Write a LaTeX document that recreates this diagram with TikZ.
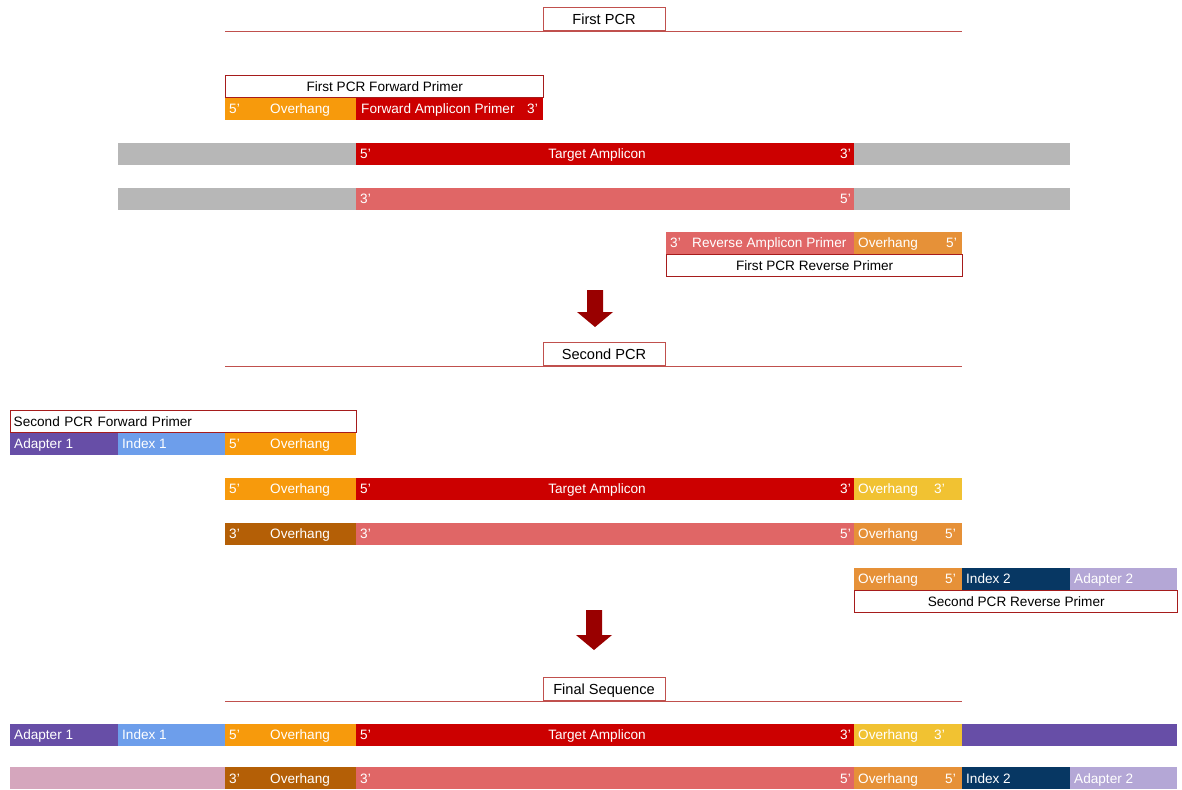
\documentclass[tikz,border=0pt]{standalone}
\usepackage{fontspec}
\setmainfont{Liberation Sans}
\usepackage{tikz}
\usetikzlibrary{positioning, calc}
\definecolor{ampred}{HTML}{CC0000}
\definecolor{amppink}{HTML}{E06666}
\definecolor{flankgrey}{HTML}{B7B7B7}
\definecolor{ovorange}{HTML}{F79A0C}
\definecolor{ovamber}{HTML}{E69138}
\definecolor{ovyellow}{HTML}{F1C232}
\definecolor{ovbrown}{HTML}{B45F06}
\definecolor{adpurple}{HTML}{674EA7}
\definecolor{adlilac}{HTML}{D5A6BD}
\definecolor{adlavender}{HTML}{B4A7D6}
\definecolor{idxblue}{HTML}{6D9EEB}
\definecolor{idxnavy}{HTML}{073763}
\definecolor{boxred}{HTML}{A61C1C}
\definecolor{rulered}{HTML}{C0504D}
\definecolor{arrowred}{HTML}{990000}

\begin{document}
\begin{tikzpicture}[x=1pt, y=-1pt,
	every node/.style={font=\fontsize{13.6}{16}\selectfont, text height=9.8pt, text depth=0pt},
	seglbl/.style={text=white, inner sep=0pt, anchor=west},
	midlbl/.style={text=white, inner sep=0pt},
	headbox/.style={draw=rulered, line width=0.9pt, fill=white, minimum width=122pt, minimum height=23pt, inner sep=0pt, font=\fontsize{14.6}{17}\selectfont, text height=10.5pt, text depth=0pt},
	primerbox/.style={draw=boxred, line width=1.4pt, fill=white, minimum height=22pt, inner sep=0pt},
	headrule/.style={draw=rulered, line width=0.9pt},
	bigarrow/.style={fill=arrowred, draw=none}]
	\pgfmathsetmacro{\barh}{22}
	\useasboundingbox (0,0) rectangle (1182,789);
	
	\draw[headrule] (225,31) -- (962,31);
	\node[headbox, anchor=south] (hdfirst) at (604,31) {First PCR};
	
	\node[primerbox, minimum width=318pt, anchor=north west] (fwdone) at (225,75) {First PCR Forward Primer};
	\fill[ovorange] (225,98) rectangle ++(131,\barh);
	\fill[ampred] (356,98) rectangle ++(187,\barh);
	\node[seglbl] (fwdonea) at (229,109) {5'};
	\node[seglbl] (fwdoneb) at (270,109) {Overhang};
	\node[seglbl] (fwdonec) at (361,109) {Forward Amplicon Primer};
	\node[seglbl] (fwdoned) at (527,109) {3'};
	
	\fill[flankgrey] (118,143) rectangle ++(238,\barh);
	\fill[ampred] (356,143) rectangle ++(498,\barh);
	\fill[flankgrey] (854,143) rectangle ++(216,\barh);
	\node[seglbl] (topa) at (360,154) {5'};
	\node[midlbl] (topb) at (597,154) {Target Amplicon};
	\node[seglbl] (topc) at (840,154) {3'};
	
	\fill[flankgrey] (118,188) rectangle ++(238,\barh);
	\fill[amppink] (356,188) rectangle ++(498,\barh);
	\fill[flankgrey] (854,188) rectangle ++(216,\barh);
	\node[seglbl] (bota) at (360,199) {3'};
	\node[seglbl] (botb) at (840,199) {5'};
	
	\fill[amppink] (666,232) rectangle ++(188,\barh);
	\fill[ovamber] (854,232) rectangle ++(108,\barh);
	\node[seglbl] (revonea) at (670,243) {3'};
	\node[seglbl] (revoneb) at (692,243) {Reverse Amplicon Primer};
	\node[seglbl] (revonec) at (858,243) {Overhang};
	\node[seglbl] (revoned) at (946,243) {5'};
	\node[primerbox, minimum width=296pt, anchor=north west] (revone) at (666,254) {First PCR Reverse Primer};
	
	\fill[bigarrow] (587,290) -- (603,290) -- (603,312) -- (613,312) -- (595,327) -- (577,312) -- (587,312) -- cycle;
	
	\draw[headrule] (225,366) -- (962,366);
	\node[headbox, anchor=south] (hdsecond) at (604,366) {Second PCR};
	
	\node[primerbox, minimum width=346pt, anchor=north west, text width=340pt, align=left] (fwdtwo) at (10,410) {Second PCR Forward Primer};
	\fill[adpurple] (10,433) rectangle ++(108,\barh);
	\fill[idxblue] (118,433) rectangle ++(107,\barh);
	\fill[ovorange] (225,433) rectangle ++(131,\barh);
	\node[seglbl] (fwdtwoa) at (14,444) {Adapter 1};
	\node[seglbl] (fwdtwob) at (122,444) {Index 1};
	\node[seglbl] (fwdtwoc) at (229,444) {5'};
	\node[seglbl] (fwdtwod) at (270,444) {Overhang};
	
	\fill[ovorange] (225,478) rectangle ++(131,\barh);
	\fill[ampred] (356,478) rectangle ++(498,\barh);
	\fill[ovyellow] (854,478) rectangle ++(108,\barh);
	\node[seglbl] (midtopa) at (229,489) {5'};
	\node[seglbl] (midtopb) at (270,489) {Overhang};
	\node[seglbl] (midtopc) at (360,489) {5'};
	\node[midlbl] (midtopd) at (597,489) {Target Amplicon};
	\node[seglbl] (midtope) at (840,489) {3'};
	\node[seglbl] (midtopf) at (858,489) {Overhang};
	\node[seglbl] (midtopg) at (934,489) {3'};
	
	\fill[ovbrown] (225,523) rectangle ++(131,\barh);
	\fill[amppink] (356,523) rectangle ++(498,\barh);
	\fill[ovamber] (854,523) rectangle ++(108,\barh);
	\node[seglbl] (midbota) at (229,534) {3'};
	\node[seglbl] (midbotb) at (270,534) {Overhang};
	\node[seglbl] (midbotc) at (360,534) {3'};
	\node[seglbl] (midbotd) at (840,534) {5'};
	\node[seglbl] (midbote) at (858,534) {Overhang};
	\node[seglbl] (midbotf) at (945,534) {5'};
	
	\fill[ovamber] (854,568) rectangle ++(108,\barh);
	\fill[idxnavy] (962,568) rectangle ++(108,\barh);
	\fill[adlavender] (1070,568) rectangle ++(107,\barh);
	\node[seglbl] (revtwoa) at (858,579) {Overhang};
	\node[seglbl] (revtwob) at (945,579) {5'};
	\node[seglbl] (revtwoc) at (966,579) {Index 2};
	\node[seglbl] (revtwod) at (1074,579) {Adapter 2};
	\node[primerbox, minimum width=323pt, anchor=north west] (revtwo) at (854,590) {Second PCR Reverse Primer};
	
	\fill[bigarrow] (586,610) -- (602,610) -- (602,635) -- (612,635) -- (594,650) -- (576,635) -- (586,635) -- cycle;
	
	\draw[headrule] (225,701) -- (962,701);
	\node[headbox, anchor=south] (hdfinal) at (604,701) {Final Sequence};
	
	\fill[adpurple] (10,724) rectangle ++(108,\barh);
	\fill[idxblue] (118,724) rectangle ++(107,\barh);
	\fill[ovorange] (225,724) rectangle ++(131,\barh);
	\fill[ampred] (356,724) rectangle ++(498,\barh);
	\fill[ovyellow] (854,724) rectangle ++(108,\barh);
	\fill[adpurple] (962,724) rectangle ++(215,\barh);
	\node[seglbl] (fintopa) at (14,735) {Adapter 1};
	\node[seglbl] (fintopb) at (122,735) {Index 1};
	\node[seglbl] (fintopc) at (229,735) {5'};
	\node[seglbl] (fintopd) at (270,735) {Overhang};
	\node[seglbl] (fintope) at (360,735) {5'};
	\node[midlbl] (fintopf) at (597,735) {Target Amplicon};
	\node[seglbl] (fintopg) at (840,735) {3'};
	\node[seglbl] (fintoph) at (858,735) {Overhang};
	\node[seglbl] (fintopi) at (934,735) {3'};
	
	\fill[adlilac] (10,767) rectangle ++(215,\barh);
	\fill[ovbrown] (225,767) rectangle ++(131,\barh);
	\fill[amppink] (356,767) rectangle ++(498,\barh);
	\fill[ovamber] (854,767) rectangle ++(108,\barh);
	\fill[idxnavy] (962,767) rectangle ++(108,\barh);
	\fill[adlavender] (1070,767) rectangle ++(107,\barh);
	\node[seglbl] (finbota) at (229,779) {3'};
	\node[seglbl] (finbotb) at (270,779) {Overhang};
	\node[seglbl] (finbotc) at (360,779) {3'};
	\node[seglbl] (finbotd) at (840,779) {5'};
	\node[seglbl] (finbote) at (858,779) {Overhang};
	\node[seglbl] (finbotf) at (945,779) {5'};
	\node[seglbl] (finbotg) at (966,779) {Index 2};
	\node[seglbl] (finboth) at (1074,779) {Adapter 2};
\end{tikzpicture}
\end{document}
